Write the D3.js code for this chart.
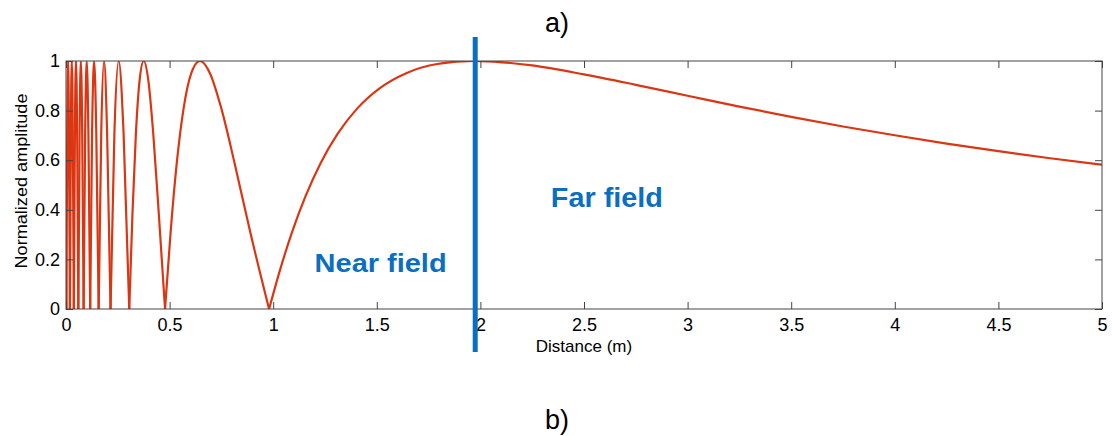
<!DOCTYPE html>
<html lang="en">
<head>
    <meta charset="UTF-8"/>
    <title>Near field / far field</title>
    <script src="https://d3js.org/d3.v7.min.js" charset="utf-8"></script>
    <style type="text/css">
        body { margin: 0; background: #ffffff; }
        text { font-family: Arial, "Liberation Sans", sans-serif; fill: #000; }
        path.line { fill: none; stroke: #dc3512; stroke-width: 2.2px; stroke-linejoin: round; }
        .axis path, .axis line { stroke: #444; }
    </style>
</head>
<body>
<div id="diagram"></div>
<script type="text/javascript">

    // distance (m) and normalized amplitude
    var distance = [
        0, 0.0018, 0.0059, 0.0101, 0.0144, 0.0188, 0.0233, 0.028, 0.0328, 0.0378,
        0.0429, 0.0482, 0.0538, 0.0595, 0.0655, 0.0717, 0.0783, 0.0851, 0.0924, 0.1,
        0.1081, 0.1167, 0.1258, 0.1356, 0.1462, 0.1576, 0.17, 0.1836, 0.1985, 0.215,
        0.2335, 0.2543, 0.278, 0.3053, 0.3207, 0.3373, 0.3554, 0.3752, 0.397, 0.4211,
        0.4479, 0.478, 0.5048, 0.5345, 0.5676, 0.6047, 0.6467, 0.6945, 0.7496, 0.8137,
        0.8894, 0.98, 1.0324, 1.0906, 1.1556, 1.2286, 1.3113, 1.4058, 1.5148, 1.642,
        1.792, 1.972, 2.0, 2.25, 2.5, 2.75, 3, 3.25, 3.5, 3.75,
        4, 4.25, 4.5, 4.75, 5
    ];
    var amplitude = [
        0.339, 0, 0.707, 1, 0.707, 0, 0.707, 1, 0.707, 0,
        0.707, 1, 0.707, 0, 0.707, 1, 0.707, 0, 0.707, 1,
        0.707, 0, 0.707, 1, 0.707, 0, 0.707, 1, 0.707, 0,
        0.707, 1, 0.707, 0, 0.383, 0.707, 0.924, 1, 0.924, 0.707,
        0.383, 0, 0.309, 0.588, 0.809, 0.951, 1, 0.951, 0.809, 0.588,
        0.309, 0, 0.156, 0.309, 0.454, 0.588, 0.707, 0.809, 0.891, 0.951,
        0.988, 1, 0.9998, 0.982, 0.946, 0.904, 0.86, 0.816, 0.775, 0.736,
        0.7005, 0.667, 0.6365, 0.608, 0.582
    ];
    var xTicks = [0, 0.5, 1, 1.5, 2, 2.5, 3, 3.5, 4, 4.5, 5];
    var yTicks = [0, 0.2, 0.4, 0.6, 0.8, 1];
    var nearFieldLimit = 1.975;

    var W = 1112, H = 436;
    var margin = {top: 61, right: 10, bottom: 127, left: 66},
        width = W - margin.left - margin.right,
        height = H - margin.top - margin.bottom;

    var svg = d3.select("#diagram")
        .append("svg")
        .attr("width", W)
        .attr("height", H);

    var g = svg.append("g")
        .attr("transform", "translate(" + margin.left + "," + margin.top + ")");

    var x = d3.scaleLinear().domain([0, 5]).range([0, width]);
    var y = d3.scaleLinear().domain([0, 1]).range([height, 0]);

    // split curve into lobes at the zeros so the cusps stay sharp
    var points = distance.map(function(d, i) { return [d, amplitude[i]]; });
    var lobes = [], cur = [];
    points.forEach(function(p, i) {
        cur.push(p);
        if (p[1] === 0 && i > 0) { lobes.push(cur); cur = [p]; }
    });
    lobes.push(cur);

    var line = d3.line()
        .x(function(d) { return x(d[0]); })
        .y(function(d) { return y(d[1]); })
        .curve(d3.curveMonotoneX);

    g.append("clipPath").attr("id", "clip")
        .append("rect").attr("width", width).attr("height", height + 1);

    g.append("g").attr("clip-path", "url(#clip)")
        .selectAll("path")
        .data(lobes)
        .enter()
        .append("path")
        .attr("class", "line")
        .attr("d", line);

    // axes, MATLAB-style box with inward ticks
    g.append("g").attr("class", "axis")
        .attr("transform", "translate(0," + height + ")")
        .call(d3.axisBottom(x).tickValues(xTicks).tickSize(-7).tickPadding(9).tickFormat(d3.format("")))
        .call(function(s) { s.selectAll("text").attr("font-size", 18); s.select(".domain").remove(); });
    g.append("g").attr("class", "axis")
        .call(d3.axisTop(x).tickValues(xTicks).tickSize(-7).tickFormat(""))
        .call(function(s) { s.select(".domain").remove(); });
    g.append("g").attr("class", "axis")
        .call(d3.axisLeft(y).tickValues(yTicks).tickSize(-7).tickPadding(6).tickFormat(d3.format("")))
        .call(function(s) { s.selectAll("text").attr("font-size", 18); s.select(".domain").remove(); });
    g.append("g").attr("class", "axis")
        .attr("transform", "translate(" + width + ",0)")
        .call(d3.axisRight(y).tickValues(yTicks).tickSize(-7).tickFormat(""))
        .call(function(s) { s.select(".domain").remove(); });

    g.append("rect")
        .attr("width", width).attr("height", height)
        .attr("fill", "none").attr("stroke", "#444").attr("stroke-width", 1);

    // near/far field boundary
    g.append("line")
        .attr("x1", x(nearFieldLimit)).attr("x2", x(nearFieldLimit))
        .attr("y1", y(1) - 24).attr("y2", y(0) + 43)
        .attr("stroke", "#0a6fc0").attr("stroke-width", 5);

    g.append("text")
        .attr("x", x(1.2)).attr("y", y(0.15))
        .attr("font-size", 26).attr("font-weight", "bold")
        .attr("textLength", 132).attr("lengthAdjust", "spacingAndGlyphs")
        .style("fill", "#0a6fc0")
        .text("Near field");
    g.append("text")
        .attr("x", x(2.34)).attr("y", y(0.41))
        .attr("font-size", 27).attr("font-weight", "bold")
        .attr("textLength", 112).attr("lengthAdjust", "spacingAndGlyphs")
        .style("fill", "#0a6fc0")
        .text("Far field");

    // axis titles
    g.append("text")
        .attr("x", x(2.5)).attr("y", height + 43)
        .attr("text-anchor", "middle").attr("font-size", 17)
        .text("Distance (m)");
    svg.append("text")
        .attr("transform", "translate(27," + (margin.top + height / 2 - 4) + ") rotate(-90)")
        .attr("text-anchor", "middle").attr("font-size", 17)
        .attr("textLength", 175).attr("lengthAdjust", "spacingAndGlyphs")
        .text("Normalized amplitude");

    // panel letters
    svg.append("text").attr("x", 557).attr("y", 32)
        .attr("text-anchor", "middle").attr("font-size", 27).text("a)");
    svg.append("text").attr("x", 557).attr("y", 429)
        .attr("text-anchor", "middle").attr("font-size", 27).text("b)");

</script>
</body>
</html>
